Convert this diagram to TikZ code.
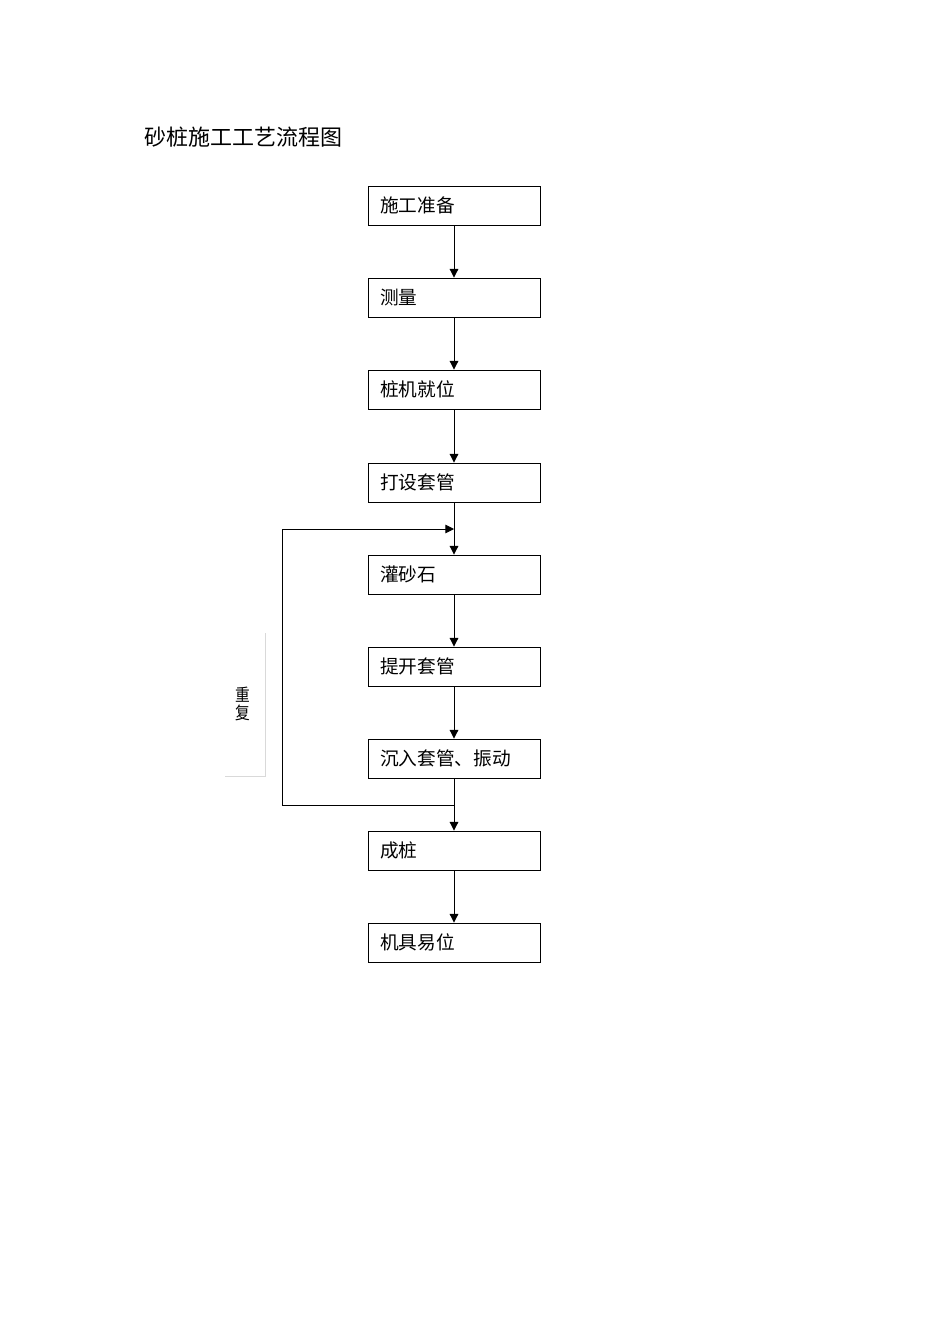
\documentclass[tikz,border=0pt]{standalone}
\usepackage{fontspec}
\setmainfont{Noto Sans CJK SC}
\usetikzlibrary{arrows.meta}
\begin{document}
\begin{tikzpicture}[x=0.75pt,y=-0.75pt,
  stepbox/.style={draw, line width=0.65pt, minimum width=129pt, minimum height=29.25pt,
    text width=111pt, inner xsep=9pt, inner ysep=0pt, align=left, font=\fontsize{14pt}{14pt}\selectfont},
  conn/.style={line width=0.7pt, -{Triangle[length=6.5pt,width=6.5pt]}},
  plain/.style={line width=0.7pt}]
\useasboundingbox (0,0) rectangle (950,1344);
\node[anchor=west, font=\fontsize{16.5pt}{16.5pt}\selectfont, inner sep=0pt] (title) at (144,137) {砂桩施工工艺流程图};
\node[stepbox] (b1) at (454,205.5) {\raisebox{-1pt}{施工准备}};
\node[stepbox] (b2) at (454,297.5) {\raisebox{-1pt}{测量}};
\node[stepbox] (b3) at (454,389.5) {\raisebox{-1pt}{桩机就位}};
\node[stepbox] (b4) at (454,482.5) {\raisebox{-1pt}{打设套管}};
\node[stepbox] (b5) at (454,574.5) {\raisebox{-1pt}{灌砂石}};
\node[stepbox] (b6) at (454,666.5) {\raisebox{-1pt}{提开套管}};
\node[stepbox] (b7) at (454,758.5) {\raisebox{-1pt}{沉入套管、振动}};
\node[stepbox] (b8) at (454,850.5) {\raisebox{-1pt}{成桩}};
\node[stepbox] (b9) at (454,942.5) {\raisebox{-1pt}{机具易位}};
\draw[conn] (b1) -- (b2);
\draw[conn] (b2) -- (b3);
\draw[conn] (b3) -- (b4);
\draw[conn] (b4) -- (b5);
\draw[conn] (b5) -- (b6);
\draw[conn] (b6) -- (b7);
\draw[conn] (b7) -- (b8);
\draw[conn] (b8) -- (b9);
\coordinate (lt) at (282,529);
\coordinate (lb) at (282,805);
\coordinate (jt) at (454,529);
\coordinate (jb) at (454,805);
\draw[plain] (jb) -- (lb) -- (lt);
\draw[conn] (lt) -- (jt);
\draw[line width=0.5pt, black!15] (265,633) -- (265,776) -- (225,776);
\node[font=\fontsize{13pt}{13.5pt}\selectfont, align=center, inner sep=0pt, xscale=0.85] (rep) at (243,704) {重\\复};
\end{tikzpicture}
\end{document}
